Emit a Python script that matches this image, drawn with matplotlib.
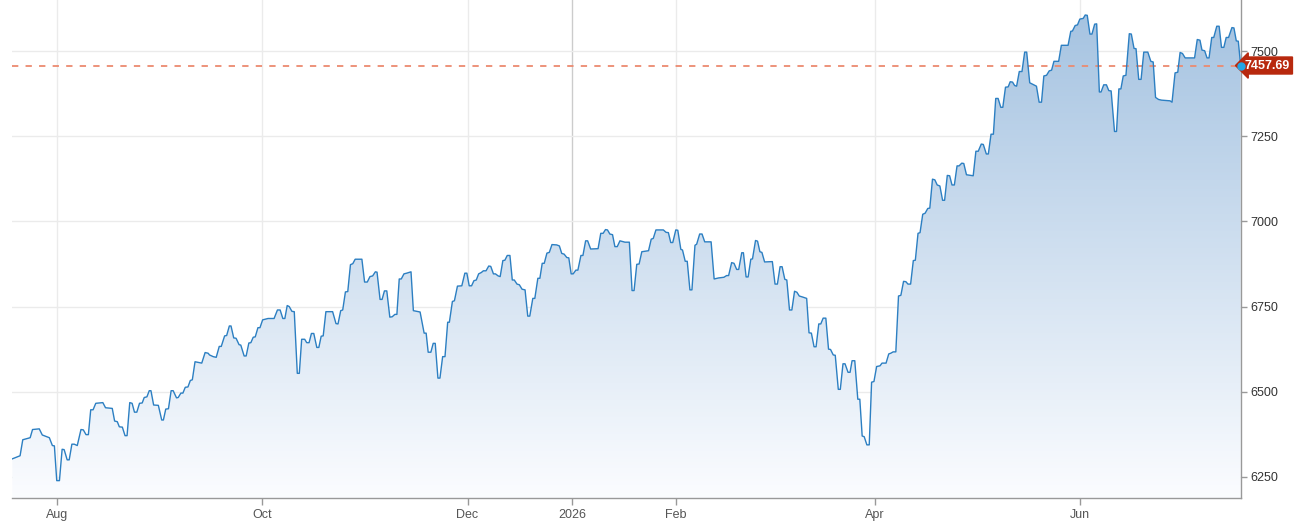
import numpy as np
import pandas as pd
import matplotlib
matplotlib.use("Agg")
import matplotlib.pyplot as plt
import matplotlib.dates as mdates
import matplotlib.transforms as mtransforms
from matplotlib.patches import Polygon

plt.rcParams["font.family"] = ["Liberation Sans", "DejaVu Sans"]

# days counted from 2025-08-01, and index level
days = [
    -13.3, -11.0, -10.2, -8.0, -7.3, -5.3, -4.4, -2.3, -1.4, -0.8, -0.1, 0.7, 1.5, 2.1, 3.0, 3.6,
    4.4, 5.1, 6.0, 7.1, 7.8, 8.6, 9.3, 10.0, 10.7, 11.5, 13.6, 14.4, 16.4, 17.1, 17.9, 18.5,
    19.4, 20.2, 20.8, 21.6, 22.3, 23.0, 23.7, 24.5, 25.3, 25.9, 26.7, 27.4, 27.9, 28.7, 30.1,
    31.1, 31.6, 32.3, 33.1, 33.9, 34.5, 35.5, 36.0, 36.8, 37.4, 38.1, 38.9, 39.6, 40.2, 41.0,
    41.5, 43.0, 44.0, 44.9, 45.3, 46.4, 47.3, 48.2, 48.8, 49.8, 50.4, 51.2, 51.7, 52.5, 53.2,
    54.1, 54.6, 55.6, 56.2, 57.0, 57.6, 58.3, 58.9, 59.7, 60.3, 61.1, 62.7, 64.5, 65.5, 66.3,
    67.1, 67.7, 68.4, 69.0, 69.8, 70.5, 71.4, 72.0, 72.7, 73.6, 74.2, 74.9, 75.6, 76.3, 77.2,
    77.8, 78.5, 79.1, 79.9, 81.9, 82.9, 83.5, 84.3, 84.9, 85.7, 86.4, 87.2, 87.9, 88.6, 90.6,
    91.4, 92.2, 93.0, 93.8, 94.6, 95.1, 96.0, 96.6, 97.3, 98.0, 98.9, 99.6, 100.4, 101.0,
    101.7, 102.3, 103.1, 103.9, 105.2, 105.9, 107.9, 109.1, 109.7, 110.3, 111.1, 111.8, 112.4,
    113.2, 113.8, 114.6, 115.3, 116.1, 116.6, 117.5, 118.1, 119.0, 120.3, 121.2, 121.8, 122.5,
    123.2, 123.9, 124.6, 125.3, 126.1, 126.7, 127.5, 128.3, 128.9, 129.7, 130.3, 131.1, 131.7,
    132.5, 133.1, 133.8, 134.6, 135.3, 135.9, 136.7, 137.4, 138.2, 139.1, 139.9, 140.5, 141.4,
    142.0, 142.9, 143.5, 144.2, 144.8, 145.6, 146.3, 147.1, 148.5, 149.3, 150.0, 150.7, 151.5,
    152.1, 152.8, 153.4, 154.2, 154.8, 155.7, 156.3, 157.1, 157.7, 158.6, 160.8, 161.6, 162.3,
    163.0, 163.6, 164.3, 165.1, 165.8, 166.5, 167.3, 168.1, 168.8, 170.1, 170.9, 171.5, 172.3,
    173.0, 173.8, 175.8, 176.6, 177.2, 178.0, 180.2, 181.0, 181.7, 182.4, 183.0, 183.9, 184.5,
    185.4, 185.9, 186.7, 187.3, 188.1, 188.7, 189.6, 190.1, 191.0, 191.7, 192.5, 194.4, 195.3,
    196.6, 198.2, 199.0, 199.6, 200.5, 201.2, 202.0, 202.6, 203.5, 204.0, 204.8, 205.4, 206.2,
    206.7, 207.6, 208.2, 208.9, 209.5, 210.3, 212.6, 213.4, 214.1, 214.9, 215.5, 216.3, 216.9,
    217.7, 218.4, 219.2, 219.9, 220.6, 221.6, 222.8, 223.5, 224.2, 225.0, 225.6, 226.4, 227.0,
    227.7, 228.5, 229.3, 229.9, 230.7, 231.3, 232.2, 232.8, 233.6, 234.2, 235.1, 235.7, 236.3,
    237.1, 238.0, 238.6, 239.3, 239.9, 240.7, 241.4, 242.1, 242.8, 243.6, 244.6, 245.2, 246.4,
    247.2, 247.8, 248.5, 249.3, 250.1, 250.8, 251.6, 252.3, 252.9, 253.7, 254.5, 255.1, 255.9,
    256.5, 257.3, 258.0, 258.8, 259.4, 260.2, 260.9, 261.6, 262.4, 263.2, 263.8, 264.6, 265.3,
    266.0, 266.7, 267.5, 268.1, 268.9, 269.5, 270.3, 272.3, 273.1, 273.8, 274.7, 275.3, 276.2,
    276.8, 277.6, 278.3, 279.0, 279.7, 280.5, 281.1, 281.9, 282.7, 283.3, 284.0, 284.6, 285.2,
    286.0, 286.8, 287.6, 288.2, 289.1, 290.3, 291.1, 291.9, 292.6, 293.3, 294.1, 294.9, 295.6,
    296.3, 297.7, 298.5, 300.5, 301.3, 301.8, 302.6, 303.3, 304.0, 305.0, 305.6, 306.2, 307.0,
    307.6, 308.4, 309.0, 309.8, 310.3, 311.1, 311.9, 312.6, 313.3, 314.3, 314.9, 315.6, 316.2,
    316.9, 317.7, 318.7, 319.3, 320.1, 320.7, 321.5, 322.2, 323.0, 324.2, 325.1, 325.8, 326.5,
    327.4, 328.3, 330.8, 331.4, 332.3, 333.1, 333.8, 334.5, 335.3, 338.1, 338.9, 339.7, 340.3,
    341.1, 341.8, 342.4, 343.2, 343.8, 344.7, 345.4, 346.1, 346.8, 347.5, 348.2, 349.2, 349.8,
    350.5, 351.1, 351.8,
]
values = [
    6303, 6312, 6359, 6365, 6389, 6391, 6373, 6365, 6342, 6341, 6239, 6239, 6331, 6330, 6300, 6300,
    6346, 6346, 6342, 6389, 6388, 6374, 6374, 6447, 6447, 6466, 6468, 6453, 6451, 6414, 6412, 6397,
    6396, 6371, 6371, 6468, 6466, 6440, 6440, 6466, 6467, 6483, 6485, 6503, 6503, 6461, 6460,
    6417, 6417, 6449, 6450, 6503, 6503, 6482, 6483, 6496, 6496, 6513, 6514, 6533, 6535, 6588,
    6587, 6584, 6615, 6613, 6608, 6603, 6601, 6633, 6633, 6664, 6665, 6693, 6693, 6658, 6657,
    6638, 6637, 6605, 6605, 6643, 6644, 6660, 6661, 6688, 6688, 6711, 6715, 6715, 6740, 6740,
    6715, 6715, 6753, 6750, 6736, 6735, 6554, 6554, 6654, 6654, 6644, 6644, 6671, 6671, 6630,
    6630, 6663, 6664, 6735, 6735, 6700, 6699, 6738, 6740, 6793, 6794, 6873, 6876, 6889, 6889,
    6822, 6822, 6838, 6840, 6852, 6851, 6771, 6771, 6796, 6796, 6719, 6720, 6727, 6727,
    6831, 6831, 6846, 6848, 6852, 6738, 6734, 6672, 6672, 6616, 6616, 6642, 6642,
    6540, 6540, 6603, 6603, 6704, 6704, 6765, 6767, 6810, 6811, 6848, 6848, 6811,
    6811, 6826, 6828, 6846, 6850, 6855, 6855, 6869, 6868, 6846, 6846, 6840, 6838,
    6885, 6886, 6900, 6900, 6828, 6828, 6816, 6814, 6801, 6799, 6722, 6722, 6774,
    6774, 6833, 6833, 6877, 6877, 6907, 6909, 6932, 6931, 6928, 6906, 6904, 6894,
    6893, 6846, 6846, 6857, 6857, 6900, 6900, 6943, 6943, 6919, 6920, 6965, 6965,
    6976, 6975, 6963, 6961, 6926, 6926, 6943, 6941, 6939, 6939, 6797, 6797, 6874,
    6875, 6911, 6914, 6948, 6950, 6975, 6975, 6968, 6967, 6938, 6938, 6975, 6974,
    6918, 6916, 6883, 6883, 6799, 6799, 6930, 6933, 6963, 6963, 6940, 6940, 6831,
    6834, 6836, 6841, 6841, 6879, 6877, 6859, 6859, 6908, 6908, 6837, 6837, 6889,
    6890, 6944, 6942, 6911, 6909, 6881, 6882, 6816, 6816, 6867, 6867, 6830, 6828,
    6740, 6740, 6795, 6792, 6781, 6778, 6774, 6673, 6672, 6632, 6632, 6699, 6699,
    6716, 6716, 6625, 6624, 6608, 6607, 6507, 6507, 6582, 6582, 6557, 6557, 6591,
    6591, 6478, 6478, 6370, 6368, 6344, 6344, 6528, 6530, 6574, 6576, 6584, 6584,
    6611, 6613, 6617, 6617, 6781, 6783, 6824, 6823, 6816, 6816, 6885, 6886, 6965,
    6967, 7021, 7024, 7038, 7039, 7124, 7122, 7107, 7104, 7062, 7062, 7135, 7134,
    7107, 7107, 7163, 7163, 7171, 7170, 7137, 7134, 7206, 7206, 7227, 7226, 7198,
    7198, 7256, 7256, 7361, 7361, 7335, 7335, 7394, 7395, 7410, 7409, 7399, 7397,
    7440, 7440, 7497, 7497, 7407, 7401, 7397, 7350, 7350, 7427, 7429, 7442, 7444,
    7470, 7470, 7517, 7517, 7558, 7559, 7575, 7577, 7594, 7596, 7606, 7605, 7550,
    7550, 7579, 7580, 7380, 7380, 7401, 7401, 7384, 7383, 7264, 7264, 7389, 7389,
    7427, 7429, 7551, 7550, 7508, 7507, 7417, 7417, 7497, 7497, 7470, 7468, 7364,
    7358, 7356, 7354, 7350, 7436, 7438, 7496, 7493, 7480, 7480, 7534, 7532, 7503,
    7501, 7480, 7480, 7540, 7540, 7573, 7573, 7511, 7511, 7540, 7540, 7569, 7568,
    7530, 7529, 7457.69,
]
last_price = 7457.69

tick_dates = ["2025-08-01", "2025-10-01", "2025-12-01", "2026-01-01", "2026-02-01", "2026-04-01", "2026-06-01"]
tick_labels = ["Aug", "Oct", "Dec", "2026", "Feb", "Apr", "Jun"]
y_ticks = [6250, 6500, 6750, 7000, 7250, 7500]

start = pd.Timestamp("2025-08-01")
dates = start + pd.to_timedelta(days, unit="D")
x = mdates.date2num(dates.to_pydatetime())
y = np.array(values)

xmin = mdates.date2num(start - pd.Timedelta(days=13.4))
xmax = mdates.date2num(start + pd.Timedelta(days=351.9))
ymin, ymax = 6188, 7650

fig = plt.figure(figsize=(12.99, 5.23), dpi=100)
ax = fig.add_axes([12 / 1299, 25 / 523, 1229 / 1299, 498 / 523])
ax.set_xlim(xmin, xmax)
ax.set_ylim(ymin, ymax)

# grid
tick_x = [mdates.date2num(pd.Timestamp(d).to_pydatetime()) for d in tick_dates]
for tx, lab in zip(tick_x, tick_labels):
    ax.axvline(tx, color="#cccccc" if lab == "2026" else "#ebebeb", lw=1, zorder=0)
for ty in y_ticks:
    ax.axhline(ty, color="#ebebeb", lw=1, zorder=0)

# gradient area under the line
grad = np.linspace(0, 1, 256).reshape(-1, 1)
top = np.array([0.64, 0.76, 0.88])
bot = np.array([0.985, 0.99, 1.0])
img = top[None, None, :] * (1 - grad[:, :, None]) + bot[None, None, :] * grad[:, :, None]
verts = np.column_stack([np.r_[x, x[-1], x[0]], np.r_[y, ymin, ymin]])
poly = Polygon(verts, closed=True, facecolor="none", edgecolor="none")
ax.add_patch(poly)
im = ax.imshow(img, extent=[xmin, xmax, ymin, ymax], aspect="auto", origin="upper", zorder=1)
im.set_clip_path(poly)

ax.plot(x, y, color="#2c7fc2", lw=1.0, zorder=3)

# last price line, marker and label
ax.axhline(last_price, color="#ec8a70", lw=1.3, ls=(0, (3.5, 4.0)), zorder=2)
trans = mtransforms.blended_transform_factory(ax.transAxes, ax.transData)
ax.text(1.003, last_price, f"{last_price:.2f}", transform=trans, ha="left", va="center",
        color="white", fontsize=9, fontweight="bold", zorder=5,
        bbox=dict(boxstyle="larrow,pad=0.2", fc="#b8290e", ec="#b8290e"))
ax.plot([x[-1]], [last_price], "o", color="#22a6e6", ms=5, zorder=6, clip_on=False)

ax.set_xticks(tick_x)
ax.set_xticklabels(tick_labels)
ax.set_yticks(y_ticks)
ax.yaxis.tick_right()
ax.tick_params(axis="y", length=4, width=1, color="#999999", labelsize=9, labelcolor="#333333", pad=3)
ax.tick_params(axis="x", length=5, width=1, color="#999999", labelsize=9, labelcolor="#555555", pad=3)

for side in ["left", "top"]:
    ax.spines[side].set_visible(False)
for side in ["right", "bottom"]:
    ax.spines[side].set_color("#999999")
    ax.spines[side].set_linewidth(1)

fig.savefig("out.png", dpi=100)
